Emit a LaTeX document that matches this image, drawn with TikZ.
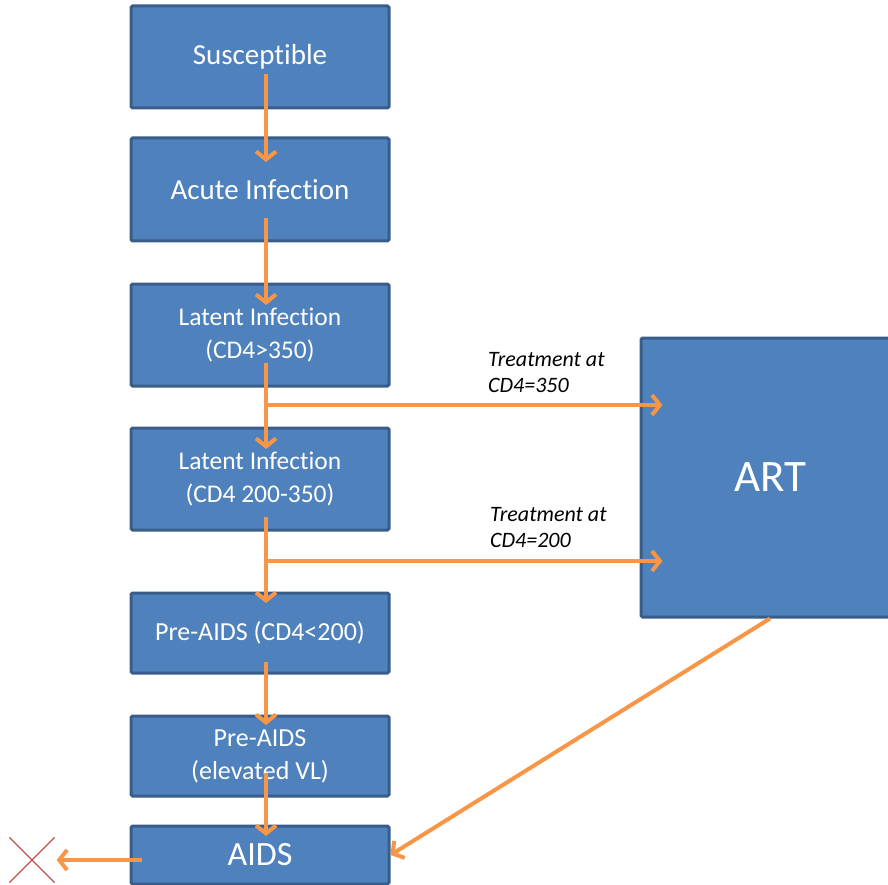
\documentclass[tikz,border=0pt]{standalone}
\usepackage{fontspec}
\setmainfont{Carlito}[Ligatures=NoCommon]
\usetikzlibrary{arrows.meta,calc,shapes.misc}

\definecolor{boxblue}{HTML}{4F81BD}
\definecolor{boxline}{HTML}{385D8A}
\definecolor{flowor}{HTML}{F79646}
\definecolor{crossred}{HTML}{C0504D}

% break the t-i ligature of Carlito
\newcommand{\tisplit}{t\kern0pt i}

\tikzset{
  stage/.style={draw=boxline, line width=3pt, fill=boxblue, rounded corners=1.5pt,
    text=white, align=center, minimum width=258pt, inner sep=0pt},
  flow/.style={draw=flowor, line width=4pt, -{Straight Barb[length=8pt,width=20pt]}},
  note/.style={anchor=base west, align=left, inner sep=0pt,
    font=\fontsize{22}{26}\selectfont\itshape}
}

\begin{document}
\begin{tikzpicture}[x=1pt, y=-1pt]
    \useasboundingbox (0,0) rectangle (888,885);

    % draw stages
    \node[stage, minimum height=102pt, font=\fontsize{29}{33}\selectfont] (sus) at (260,57) {Suscep\tisplit ble};
    \node[stage, minimum height=103pt, font=\fontsize{29}{33}\selectfont] (acute) at (260,189.5) {Acute Infec\tisplit on};
    \node[stage, minimum height=102pt, font=\fontsize{25.5}{33}\selectfont] (lat1) at (260,335) {Latent Infec\tisplit on\\(CD4>350)};
    \node[stage, minimum height=102pt, font=\fontsize{25.5}{33}\selectfont] (lat2) at (260,479) {Latent Infec\tisplit on\\(CD4 200-350)};
    \node[stage, minimum height=80pt, font=\fontsize{26}{33}\selectfont] (pre1) at (260,633) {Pre-AIDS (CD4<200)};
    \node[stage, minimum height=80pt, font=\fontsize{26}{33}\selectfont] (pre2) at (260,756) {Pre-AIDS\\(elevated VL)};
    \node[stage, minimum height=58pt, font=\fontsize{34}{40}\selectfont] (aids) at (260,855) {AIDS};
    \node[stage, minimum height=279pt, font=\fontsize{45}{50}\selectfont] (art) at (770,477.5) {ART};

    % draw death mark
    \node[cross out, draw=crossred, line width=1.2pt, minimum size=44pt, inner sep=0pt] (dead) at (32,860) {};

    % draw progression
    \draw[flow] ($(sus.center)+(6,17)$) -- ($(acute.center)+(6,-27.5)$);
    \draw[flow] ($(acute.center)+(6,28.5)$) -- ($(lat1.center)+(6,-30)$);
    \draw[flow] ($(lat1.center)+(6,28)$) -- ($(lat2.center)+(6,-30)$);
    \draw[flow] ($(lat2.center)+(6,38)$) -- ($(pre1.center)+(6,-30)$);
    \draw[flow] ($(pre1.center)+(6,29)$) -- ($(pre2.center)+(6,-31)$);
    \draw[flow] ($(pre2.center)+(6,17)$) -- ($(aids.center)+(6,-19)$);

    % draw treatment
    \coordinate (t1) at (266,405);
    \coordinate (t2) at (266,561);
    \draw[flow] (t1) -- ($(t1 -| art.west)+(23,0)$);
    \draw[flow] (t2) -- ($(t2 -| art.west)+(23,0)$);
    \node[note] (n350) at (488,392) {Treatment at\\CD4=350};
    \node[note] (n200) at (490,547) {Treatment at\\CD4=200};

    \draw[flow] (art.south) -- (aids.east);
    \draw[flow] ($(aids.west)+(12,5)$) -- ([xshift=2pt]dead.east);
\end{tikzpicture}
\end{document}
